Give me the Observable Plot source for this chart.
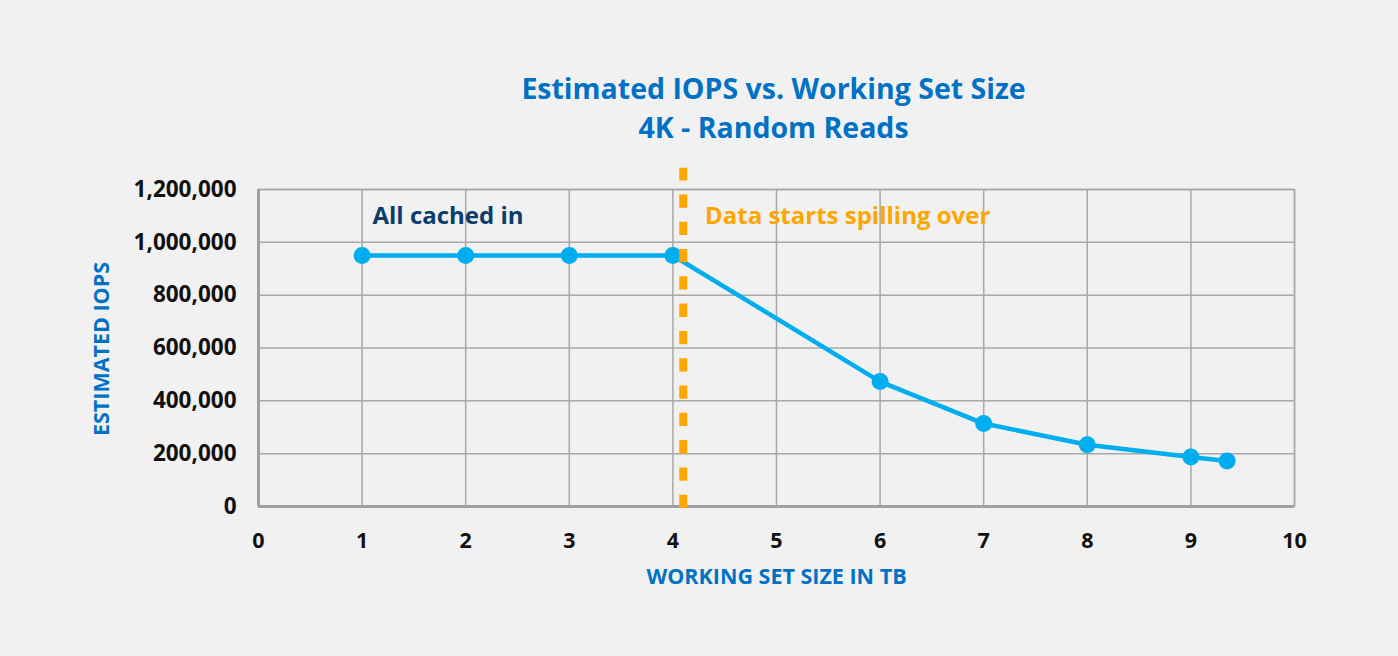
<!DOCTYPE html>
<html>
<head>
<meta charset="utf-8">
<script src="https://cdn.jsdelivr.net/npm/d3@7"></script>
<script src="https://cdn.jsdelivr.net/npm/@observablehq/plot@0.6"></script>
<style>
  html, body { margin: 0; padding: 0; background: #f1f1f1; }
  #chart { width: 1398px; height: 656px; background: #f1f1f1; }
</style>
</head>
<body>
<div id="chart"></div>
<script>
// Data
const workingSetTB = [1, 2, 3, 4, 6, 7, 8, 9, 9.35];
const estimatedIOPS = [950000, 950000, 950000, 950000, 473000, 314000, 234000, 187000, 172000];
const xTicks = [0, 1, 2, 3, 4, 5, 6, 7, 8, 9, 10];
const yTicks = [0, 200000, 400000, 600000, 800000, 1000000, 1200000];
const spillThresholdTB = [4.1];
const titleLines = ["Estimated IOPS vs. Working Set Size", "4K - Random Reads"];
const annotations = [
  {x: 1.1, y: 1100000, text: "All cached in", color: "#0b3c6e"},
  {x: 4.31, y: 1100000, text: "Data starts spilling over", color: "#ffa500"}
];

const data = workingSetTB.map((x, i) => ({x, y: estimatedIOPS[i]}));

const blue = "#0071c5";
const lineBlue = "#00aeef";
const gridGray = "#a8a8a8";
const font = "'Open Sans', 'Noto Sans', sans-serif";

const chart = Plot.plot({
  width: 1398,
  height: 656,
  marginLeft: 258,
  marginRight: 104,
  marginTop: 189,
  marginBottom: 150,
  style: {background: "transparent", fontFamily: font, fontWeight: 700, fontSize: "22px", color: "#111", overflow: "visible"},
  x: {domain: [0, 10], ticks: xTicks, label: null},
  y: {domain: [0, 1200000], ticks: yTicks, label: null},
  marks: [
    Plot.gridX(xTicks, {stroke: gridGray, strokeOpacity: 1, strokeWidth: 1.5}),
    Plot.gridY(yTicks, {stroke: gridGray, strokeOpacity: 1, strokeWidth: 1.5}),
    Plot.frame({stroke: gridGray, strokeWidth: 1.5}),
    Plot.ruleX([0], {stroke: "#a0a0a0", strokeWidth: 3}),
    Plot.ruleY([0], {stroke: "#a0a0a0", strokeWidth: 3}),
    Plot.axisX(xTicks, {tickSize: 0, tickPadding: 26, fontSize: 21.5, fontWeight: 700, fill: "#111", label: null}),
    Plot.axisY(yTicks, {tickSize: 0, tickPadding: 22, fontSize: 22.5, fontWeight: 700, fill: "#111", tickFormat: d3.format(","), label: null}),
    Plot.line(data, {x: "x", y: "y", stroke: lineBlue, strokeWidth: 4.5}),
    Plot.dot(data, {x: "x", y: "y", r: 8.5, fill: lineBlue, stroke: "none"}),
    Plot.ruleX(spillThresholdTB, {y1: -7600, y2: 1280000, stroke: "#ffa500", strokeWidth: 8, strokeDasharray: "13.3,14"}),
    Plot.text(annotations, {x: "x", y: "y", text: "text", fill: d => d.color, textAnchor: "start", lineAnchor: "middle", fontSize: 24, fontWeight: 700}),
    Plot.text([titleLines[0]], {frameAnchor: "top", dx: -3, dy: -100, fill: blue, fontSize: 28.5, fontWeight: 700, lineAnchor: "middle"}),
    Plot.text([titleLines[1]], {frameAnchor: "top", dx: -3, dy: -61, fill: blue, fontSize: 28.5, fontWeight: 700, lineAnchor: "middle"}),
    Plot.text(["WORKING SET SIZE IN TB"], {frameAnchor: "bottom", dx: 0, dy: 71, fill: blue, fontSize: 21.5, fontWeight: 700, lineAnchor: "middle"}),
    Plot.text(["ESTIMATED IOPS"], {frameAnchor: "left", dx: -156, dy: 1, rotate: -90, textAnchor: "middle", fill: blue, fontSize: 21.5, fontWeight: 700, lineAnchor: "middle"})
  ]
});

document.getElementById("chart").appendChild(chart);
</script>
</body>
</html>
